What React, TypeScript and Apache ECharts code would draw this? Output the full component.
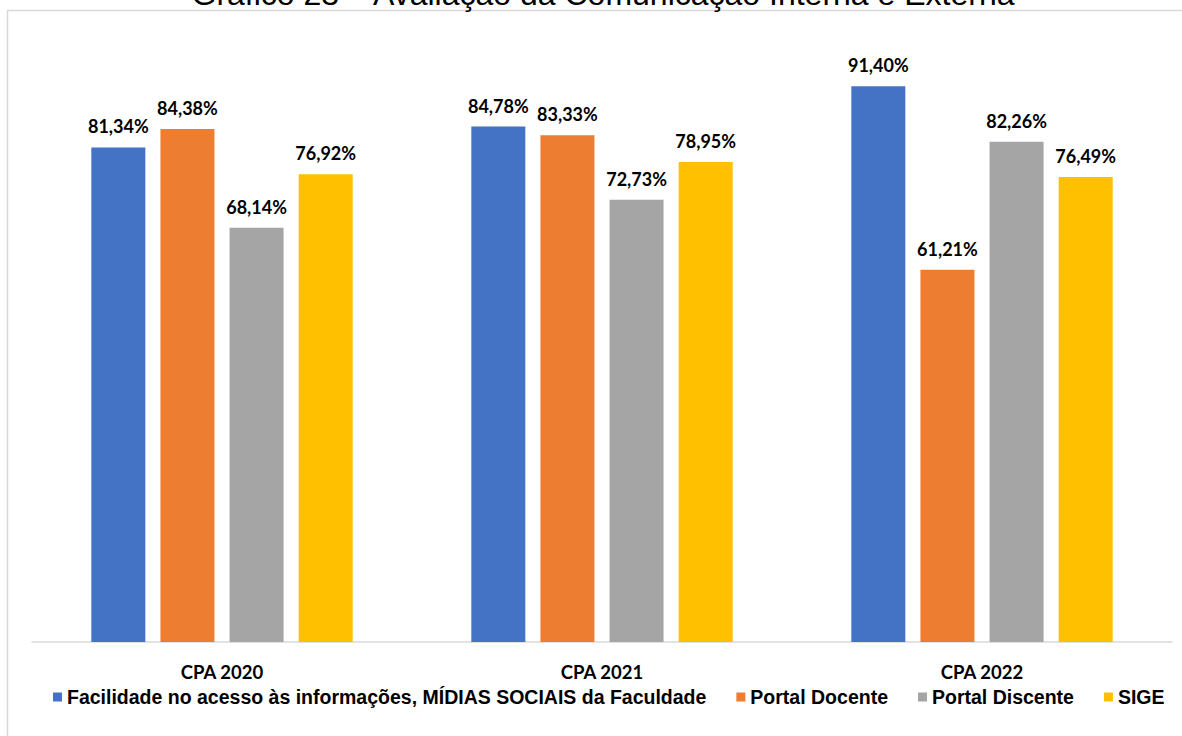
import React, { useEffect, useRef } from "react";
import * as echarts from "echarts";

const titleText = "Gráfico 23 – Avaliação da Comunicação Interna e Externa";
const categories = ["CPA 2020", "CPA 2021", "CPA 2022"];
const seriesNames = [
  "Facilidade no acesso às informações, MÍDIAS SOCIAIS da Faculdade",
  "Portal Docente",
  "Portal Discente",
  "SIGE",
];
const facilidade = [81.34, 84.78, 91.4];
const portalDocente = [84.38, 83.33, 61.21];
const portalDiscente = [68.14, 72.73, 82.26];
const sige = [76.92, 78.95, 76.49];
const colors = ["#4472C4", "#ED7D31", "#A5A5A5", "#FFC000"];

const labelFont = "Lato, 'Noto Sans', sans-serif";
const arialFont = "'Liberation Sans', Arial, sans-serif";

export default function App() {
  const ref = useRef<HTMLDivElement>(null);
  useEffect(() => {
    if (!ref.current) return;
    const chart = echarts.init(ref.current, undefined, { renderer: "svg" });
    const values = [facilidade, portalDocente, portalDiscente, sige];
    chart.setOption({
      animation: false,
      backgroundColor: "#ffffff",
      graphic: [
        {
          type: "rect",
          shape: { x: 7.5, y: 10.5, width: 1300, height: 900 },
          style: { fill: "none", stroke: "#d9d9d9", lineWidth: 1.5 },
          silent: true,
        },
        {
          type: "text",
          x: 603,
          y: -6,
          style: {
            text: titleText,
            fontSize: 32,
            fontFamily: arialFont,
            fill: "#000000",
            textAlign: "center",
            textVerticalAlign: "middle",
          },
          silent: true,
        },
      ],
      legend: {
        left: 53,
        top: 687,
        padding: 0,
        itemWidth: 9,
        itemHeight: 9,
        itemGap: 30,
        icon: "rect",
        textStyle: {
          fontFamily: arialFont,
          fontWeight: "bold",
          fontSize: 19.5,
          color: "#000000",
        },
        data: seriesNames,
      },
      grid: { left: 32, right: 10, top: 34, bottom: 94, containLabel: false },
      xAxis: {
        type: "category",
        data: categories,
        axisTick: { show: false },
        axisLine: { lineStyle: { color: "#d9d9d9", width: 1.5 } },
        axisLabel: {
          margin: 20,
          fontFamily: labelFont,
          fontWeight: "bold",
          fontSize: 18.5,
          color: "#000000",
        },
      },
      yAxis: { type: "value", min: 0, max: 100, show: false },
      series: seriesNames.map((name, i) => ({
        name,
        type: "bar",
        data: values[i],
        barWidth: 54,
        barGap: "28%",
        itemStyle: { color: colors[i] },
        label: {
          show: true,
          position: "top",
          distance: 12,
          fontFamily: labelFont,
          fontWeight: "bold",
          fontSize: 18,
          color: "#000000",
          formatter: (p: any) => p.value.toFixed(2).replace(".", ",") + "%",
        },
      })),
    });
    return () => chart.dispose();
  }, []);
  return (
    <div
      ref={ref}
      style={{ position: "absolute", left: 0, top: 0, width: 1182, height: 736 }}
    />
  );
}
